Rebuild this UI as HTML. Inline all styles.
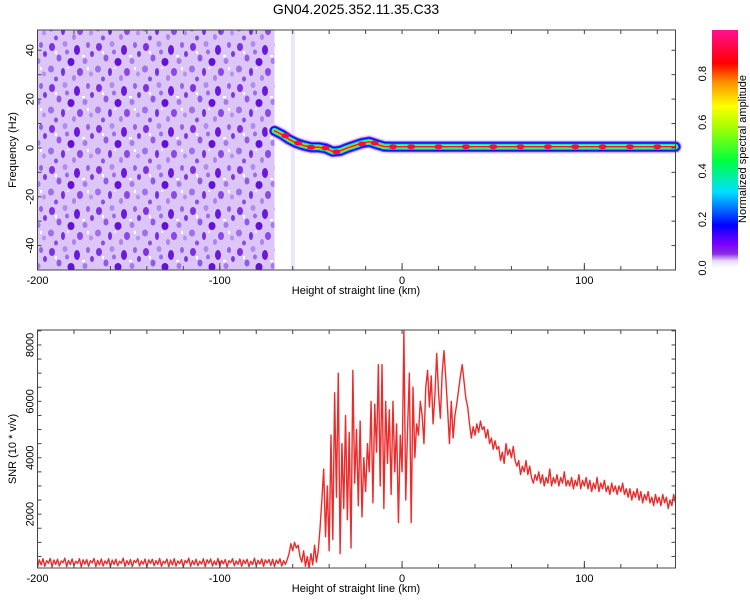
<!DOCTYPE html>
<html><head><meta charset="utf-8"><style>
body{margin:0;background:#fff;}
svg text{font-family:"Liberation Sans",sans-serif;fill:#000;}
</style></head><body>
<svg id="chart" width="750" height="600" viewBox="0 0 750 600" xmlns="http://www.w3.org/2000/svg">
<defs>
<linearGradient id="cbar" x1="0" y1="1" x2="0" y2="0">
<stop offset="0" stop-color="#ffffff"/>
<stop offset="0.03" stop-color="#e8d8ff"/>
<stop offset="0.06" stop-color="#8a2be2"/>
<stop offset="0.1" stop-color="#7a00ff"/>
<stop offset="0.18" stop-color="#0000ff"/>
<stop offset="0.32" stop-color="#00e0ff"/>
<stop offset="0.45" stop-color="#00ff40"/>
<stop offset="0.6" stop-color="#b0ff00"/>
<stop offset="0.68" stop-color="#ffff00"/>
<stop offset="0.78" stop-color="#ff9000"/>
<stop offset="0.86" stop-color="#ff0000"/>
<stop offset="1" stop-color="#ff1090"/>
</linearGradient>
<pattern id="noise" width="47" height="41" patternUnits="userSpaceOnUse">
<rect width="47" height="41" fill="#dcc6f8"/>
<ellipse cx="5" cy="6" rx="3" ry="4" fill="#7f30e4"/>
<ellipse cx="18" cy="3" rx="2.5" ry="3" fill="#b48af0"/>
<ellipse cx="30" cy="9" rx="3" ry="5" fill="#6a18dc"/>
<ellipse cx="41" cy="4" rx="2" ry="3" fill="#9a60ea"/>
<ellipse cx="12" cy="17" rx="2.5" ry="3.5" fill="#9358ea"/>
<ellipse cx="24" cy="21" rx="3.5" ry="4" fill="#6410da"/>
<ellipse cx="38" cy="20" rx="2.5" ry="3" fill="#a878ee"/>
<ellipse cx="4" cy="28" rx="3" ry="3.5" fill="#a070ec"/>
<ellipse cx="16" cy="31" rx="2" ry="4" fill="#7630e2"/>
<ellipse cx="33" cy="31" rx="3" ry="4" fill="#8a48e8"/>
<ellipse cx="44" cy="33" rx="2" ry="2.5" fill="#b890f2"/>
<ellipse cx="9" cy="38" rx="2" ry="2.5" fill="#8c4ce8"/>
<ellipse cx="27" cy="37" rx="2" ry="3" fill="#b080f0"/>
<ellipse cx="45" cy="13" rx="2" ry="3" fill="#7d38e4"/>
<ellipse cx="20" cy="11" rx="2" ry="2.5" fill="#9e6aec"/>
<rect x="8" y="10" width="2" height="3" fill="#fff"/>
<rect x="35" y="14" width="3" height="2" fill="#fff"/>
<rect x="20" y="26" width="2" height="2" fill="#f2eafd"/>
<rect x="40" y="26" width="2" height="3" fill="#fff"/>
</pattern>
</defs>
<text x="356" y="14" font-size="14" text-anchor="middle">GN04.2025.352.11.35.C33</text>
<g id="top"></g>
<g id="bot"></g>
<g id="cb"></g>
</svg>
<script>
// ---- data ----
const xTicks = [-200, -100, 0, 100];
const freqTicks = [-40, -20, 0, 20, 40];
const snrTicks = [2000, 4000, 6000, 8000];
const cbTicks = [0.0, 0.2, 0.4, 0.6, 0.8];
const noiseStartKm = -200, noiseEndKm = -70;
const ridgeKm = [-70,-66,-62,-58,-54,-50,-46,-42,-38,-34,-30,-26,-22,-18,-14,-10,-6,-2,10,30,60,90,120,150];
const ridgeFreq = [7,5.5,3.5,2,1,0.3,0.3,-0.2,-1.5,-1.2,0,1,2,2.5,1.5,0.6,0.5,0.5,0.5,0.5,0.5,0.5,0.5,0.5];
const peakKm = [-64,-57,-50,-42,-36,-22,-15,-5,5,20,35,50,65,80,95,110,125,140];
const peakFreq = [5,2,0.3,0,-1.6,1.6,2,0.5,0.5,0.5,0.5,0.5,0.5,0.5,0.5,0.5,0.5,0.5];
const snrStartKm = -200, snrStepKm = 1;
const snrValues = [
120,380,200,420,150,350,260,430,130,370,220,400,160,340,280,440,140,360,210,410,170,330,250,420,130,380,230,390,150,350,
270,430,140,360,200,410,160,340,240,420,130,370,220,400,170,330,260,440,150,350,210,390,140,360,280,420,160,340,230,410,
130,380,250,400,170,350,220,430,150,330,260,410,140,370,200,420,160,340,240,390,130,360,270,440,150,350,210,400,170,330,
230,420,140,380,260,410,160,340,200,430,150,360,240,390,130,350,280,420,170,340,220,410,150,370,250,400,140,330,210,440,
160,360,230,410,150,380,270,390,180,400,140,370,250,420,160,350,220,390,
600,950,700,1000,800,900,500,
300,700,150,500,100,600,200,900,300,700,
1500,2500,3600,1200,3000,700,
4800,1100,6300,2600,7000,600,4500,2200,5500,1800,4900,800,7100,3100,5000,2300,5300,1900,4000,2800,4500,3500,6000,2400,5900,4200,7300,3000,7300,2200,6000,3800,5700,2700,6000,3500,5200,1700,4800,
3500,8500,2500,5000,7000,1700,6500,4000,5200,4800,6000,5500,4500,6500,7100,5800,6900,5200,6200,7700,6300,5400,7000,7800,6800,5700,4500,6000,4700,5500,5900,6400,6900,7300,6700,6100,
5800,5200,4700,5100,4800,5200,4900,5300,5000,5100,4700,5000,4500,4700,4300,4600,4300,4400,3900,4200,3800,4500,4100,4300,4000,4400,3900,3700,3900,3400,
3700,3500,3900,3400,3700,3300,3100,3400,3200,3500,3100,3400,3000,3300,3100,3600,3000,3300,3100,3400,3000,3300,3100,3500,3000,3200,3000,3300,2900,3200,
3000,3400,2900,3200,3000,3300,2900,3200,2800,3100,2900,3300,2800,3100,2900,3200,2800,3000,2700,3100,2800,3000,2700,3000,2800,3100,2700,2900,2600,2900,
2500,2800,2600,2900,2500,2800,2400,2700,2500,2800,2400,2600,2300,2700,2400,2600,2300,2700,2400,2600,2200,2500,2300,2700,2400
];
// ---- scales ----
const L=37.5,R=675.5;
const xs = km => L + (km+200)/350*(R-L);
const T1=30,B1=270, fMin=-50, fMax=48.3;
const yf = f => B1 - (f-fMin)/(fMax-fMin)*(B1-T1);
const T2=330,B2=568, sMin=90, sMax=8530;
const ys = v => B2 - (v-sMin)/(sMax-sMin)*(B2-T2);
const NS='http://www.w3.org/2000/svg';
function mk(tag, parent, attrs){const e=document.createElementNS(NS,tag);for(const k in attrs)e.setAttribute(k,attrs[k]);parent.appendChild(e);return e;}
const topG=document.getElementById('top'), botG=document.getElementById('bot'), cb=document.getElementById('cb');

// ---- spectrogram ----
let nz=mk('rect',topG,{x:xs(noiseStartKm),y:T1,width:xs(noiseEndKm)-xs(noiseStartKm),height:B1-T1,fill:'url(#noise)'});


let st=mk('rect',topG,{x:xs(-61),y:T1,width:4,height:B1-T1,fill:'#efe4fd'});


const rpts = ridgeKm.map((k,i)=>xs(k)+','+yf(ridgeFreq[i])).join(' ');
const layers=[[14,'#eadcfc'],[11,'#8a40ee'],[9,'#0010ff'],[6,'#00e8c0'],[4,'#40ff40'],[2.5,'#ffd000'],[1.5,'#ff1030']];
layers.forEach((ly,i)=>{
  const p=mk('polyline',topG,{points:rpts,fill:'none',stroke:ly[1],'stroke-width':ly[0],'stroke-linecap':'round','stroke-linejoin':'round'});
  
  
});
peakKm.forEach((k,i)=>{
  const e=mk('ellipse',topG,{cx:xs(k),cy:yf(peakFreq[i]),rx:4,ry:2.5,fill:'#ff0a40'});
  
  
});
function frame(g,T,B,yticks,yfun,minorStep,yMinor0,yMinor1,ylabel){
  const fr=mk('rect',g,{x:L,y:T,width:R-L,height:B-T,fill:'none',stroke:'#444','stroke-width':1});
  
  
  for(let k=-200;k<=150;k+=20){
    const x=xs(k);
    mk('line',g,{x1:x,y1:T,x2:x,y2:T+4,stroke:'#444'});
    mk('line',g,{x1:x,y1:B,x2:x,y2:B-4,stroke:'#444'});
  }
  xTicks.forEach(k=>{
    const t=mk('text',g,{x:xs(k),y:B+14,'font-size':11,'text-anchor':'middle'});t.textContent=k;
    
    
    mk('line',g,{x1:xs(k),y1:B,x2:xs(k),y2:B-7,stroke:'#444'});
  });
  for(let v=yMinor0;v<=yMinor1;v+=minorStep){
    const y=yfun(v);
    mk('line',g,{x1:L,y1:y,x2:L+4,y2:y,stroke:'#444'});
    mk('line',g,{x1:R,y1:y,x2:R-4,y2:y,stroke:'#444'});
  }
  yticks.forEach(v=>{
    const y=yfun(v);
    const t=mk('text',g,{x:0,y:0,'font-size':11,'text-anchor':'middle',transform:`translate(${L-4},${y}) rotate(-90)`});t.textContent=v;
    
    
  });
  const xl=mk('text',g,{x:356,y:B+24,'font-size':11,'text-anchor':'middle'});xl.textContent='Height of straight line (km)';
  
  
  const yl=mk('text',g,{x:0,y:0,'font-size':11,'text-anchor':'middle',transform:`translate(16,${(T+B)/2}) rotate(-90)`});yl.textContent=ylabel;
  
  
}
frame(topG,T1,B1,freqTicks,yf,10,-50,40,'Frequency (Hz)');

// ---- SNR ----
const spts=snrValues.map((v,i)=>xs(snrStartKm+i*snrStepKm)+','+ys(v)).join(' ');
const line=mk('polyline',botG,{points:spts,fill:'none',stroke:'#ee2b2b','stroke-width':1.4,'stroke-linejoin':'round'});


frame(botG,T2,B2,snrTicks,ys,500,500,8500,'SNR (10 * v/v)');

// ---- colorbar ----
const cT=30,cB=268;
const cy=v=>cB-v/0.98*(cB-cT);
const bar=mk('rect',cb,{x:712,y:cT,width:26,height:cB-cT,fill:'url(#cbar)'});


cbTicks.forEach(v=>{
  const t=mk('text',cb,{x:0,y:0,'font-size':11,'text-anchor':'middle',transform:`translate(706,${cy(v)}) rotate(-90)`});t.textContent=v.toFixed(1);
  
  
});
const ct=mk('text',cb,{x:0,y:0,'font-size':11,'text-anchor':'middle',transform:`translate(746,149) rotate(-90)`});ct.textContent='Normalized spectral amplitude';


</script>
</body></html>
